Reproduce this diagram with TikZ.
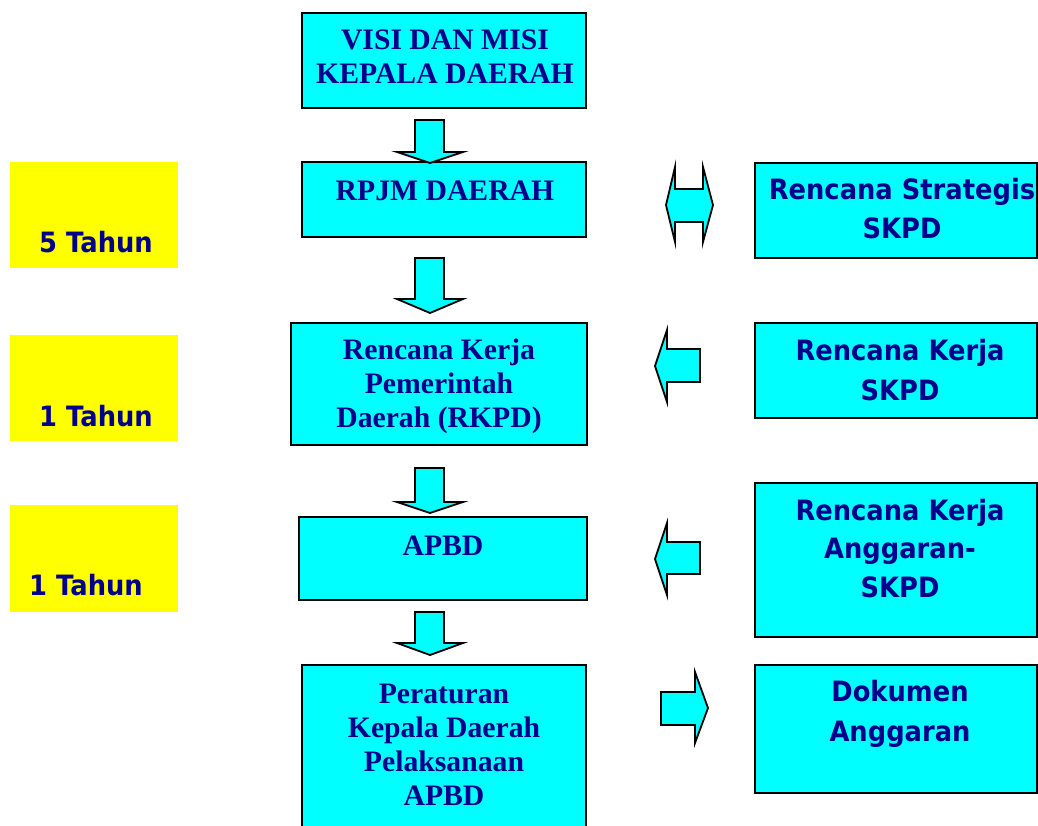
\documentclass[tikz,border=0pt]{standalone}
\usepackage{fontspec}
\setmainfont{Liberation Serif}
\newfontfamily\boxsans[FakeStretch=0.92]{DejaVu Sans}
\definecolor{cy}{RGB}{0,255,255}
\definecolor{navy}{RGB}{0,0,140}
\definecolor{yel}{RGB}{255,255,0}
\tikzset{
  cbox/.style={draw=black, line width=2.2pt, fill=cy},
  ybox/.style={fill=yel},
  stxt/.style={font=\fontsize{29.7}{34}\selectfont\bfseries, text=navy, align=center, anchor=base, inner sep=0pt},
  ftxt/.style={font=\boxsans\fontsize{28}{38.5}\selectfont\bfseries, text=navy, align=center, anchor=base, inner sep=0pt},
  ftxtw/.style={ftxt, font=\boxsans\fontsize{28}{40}\selectfont\bfseries},
  barrow/.style={draw=black, line width=1.8pt, fill=cy, line join=miter}
}
\begin{document}
\begin{tikzpicture}[x=1pt,y=-1pt]
\useasboundingbox (0,0) rectangle (1038,825);
% central boxes
\draw[cbox] (302,13) rectangle (586,108);
\node[stxt] (t1) at (445,83) {VISI DAN MISI\\KEPALA DAERAH};
\draw[cbox] (302,162) rectangle (586,237);
\node[stxt] (t2) at (445,200) {RPJM DAERAH};
\draw[cbox] (291,323) rectangle (587,445);
\node[stxt] (t3) at (439,427) {Rencana Kerja\\Pemerintah\\Daerah (RKPD)};
\draw[cbox] (299,517) rectangle (587,600);
\node[stxt] (t4) at (443,555) {APBD};
\draw[cbox] (302,665) rectangle (586,830);
\node[stxt] (t5) at (444,805) {Peraturan\\Kepala Daerah\\Pelaksanaan\\APBD};
% right boxes
\draw[cbox] (755,163) rectangle (1037,258);
\node[ftxt] (r1) at (902,238) {Rencana Strategis\\SKPD};
\draw[cbox] (755,323) rectangle (1037,418);
\node[ftxtw] (r2) at (900,400) {Rencana Kerja\\SKPD};
\draw[cbox] (755,483) rectangle (1037,637);
\node[ftxt] (r3) at (900,597) {Rencana Kerja\\Anggaran-\\SKPD};
\draw[cbox] (755,665) rectangle (1037,793);
\node[ftxtw] (r4) at (900,741) {Dokumen\\Anggaran};
% yellow boxes
\fill[ybox] (10,162) rectangle (178,268);
\node[ftxt] (y1) at (96,252) {5 Tahun};
\fill[ybox] (10,335) rectangle (178,441);
\node[ftxt] (y2) at (96,426) {1 Tahun};
\fill[ybox] (10,505) rectangle (178,612);
\node[ftxt] (y3) at (86,595) {1 Tahun};
% down block arrows
\foreach \top/\hb/\tip in {120/152/163, 258/299/313, 468/502/513, 612/643/655}{
  \draw[barrow] (415,\top) -- (444,\top) -- (444,\hb) -- (463,\hb) -- (430,\tip) -- (397,\hb) -- (415,\hb) -- cycle;
}
% double arrow
\draw[barrow] (666,205) -- (675,167) -- (675,189) -- (703,189) -- (703,167) -- (713,205) -- (703,242) -- (703,222) -- (675,222) -- (675,242) -- cycle;
% left arrows
\draw[barrow] (655,366) -- (667,330) -- (667,349) -- (700,349) -- (700,382) -- (667,382) -- (667,402) -- cycle;
\draw[barrow] (655,559) -- (667,523) -- (667,542) -- (700,542) -- (700,574) -- (667,574) -- (667,595) -- cycle;
% right arrow
\draw[barrow] (708,708) -- (695,672) -- (695,692) -- (661,692) -- (661,725) -- (695,725) -- (695,743) -- cycle;
\end{tikzpicture}
\end{document}
